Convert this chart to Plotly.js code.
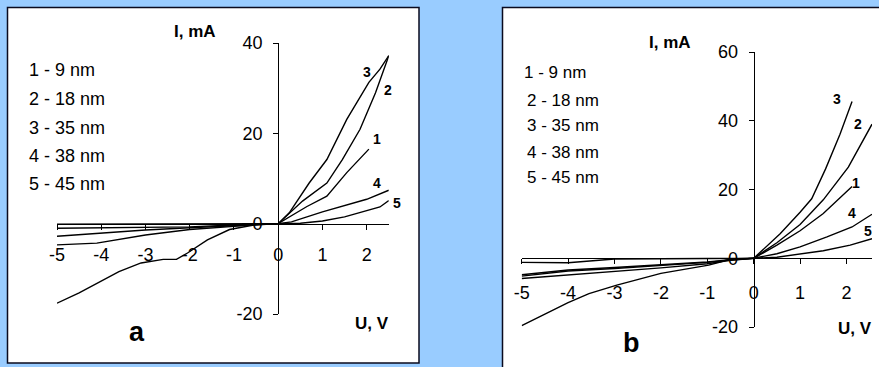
<!DOCTYPE html>
<html>
<head>
<meta charset="utf-8">
<script src="https://cdn.plot.ly/plotly-3.0.1.min.js"></script>
<style>html,body{margin:0;padding:0;background:#99CCFF;}#chart{width:879px;height:367px;}</style>
</head>
<body>
<div id="chart"></div>
<script>
// ---------- Data (U in V, I in mA) ----------
// Panel a
const uA1 = [-5, -4, -3, -2, -1, -0.5, 0, 0.65, 1.1, 1.55, 2.05];
const iA1 = [-2.8, -2.1, -1.4, -0.9, -0.4, -0.1, 0, 3.8, 6.1, 11.3, 16.5];
const uA2 = [-5, -4.1, -3, -2, -1, -0.5, 0, 0.55, 1.1, 1.45, 1.85, 2.2, 2.5];
const iA2 = [-4.7, -4.3, -2.5, -1.3, -0.6, -0.2, 0, 5.0, 9.0, 14.2, 20.9, 29.0, 37.2];
const uA3 = [-5, -4.5, -3.6, -3.1, -2.6, -2.3, -2.05, -1.6, -1.1, -0.55, 0, 0.25, 0.7, 1.1, 1.55, 2.05, 2.3, 2.5];
const iA3 = [-17.6, -15.3, -10.6, -8.7, -7.9, -7.9, -6.5, -3.6, -1.3, -0.3, 0, 2.4, 9.0, 14.2, 23.1, 31.3, 34.2, 37.2];
const uA4 = [-5, -4, -3, -2, -1, 0, 0.3, 1, 2, 2.5];
const iA4 = [-1.0, -0.9, -0.85, -0.7, -0.3, 0, 0.4, 2.6, 5.4, 7.4];
const uA5 = [-5, -3, -1, 0, 0.5, 1, 1.5, 2, 2.3, 2.5];
const iA5 = [-0.1, -0.1, -0.05, 0, 0.1, 0.6, 1.5, 2.9, 3.7, 5.1];
// Panel b
const uB1 = [-5, -4, -3, -2, -1, -0.5, 0, 0.5, 1.0, 1.5, 1.79, 2.12];
const iB1 = [-5.2, -3.7, -3.0, -2.2, -1.2, -0.5, 0, 3.8, 8.0, 13.0, 16.8, 20.9];
const uB2 = [-5, -4, -3, -2, -1, -0.5, 0, 0.5, 1.0, 1.5, 2.04, 2.55];
const iB2 = [-5.9, -4.9, -3.8, -2.8, -1.6, -0.6, 0, 4.5, 9.8, 17.0, 26.5, 39.0];
const uB3 = [-5, -4, -3.55, -2.95, -2, -0.97, -0.72, -0.5, 0, 0.57, 1.0, 1.25, 1.55, 1.86, 2.12];
const iB3 = [-19.6, -12.9, -10.3, -7.8, -4.4, -2.0, -1.1, -0.2, 0, 7.1, 13.4, 17.3, 26.0, 36.1, 45.6];
const uB4 = [-5, -4, -3, -2, -1, -0.5, 0, 0.5, 1, 1.58, 2.12, 2.55];
const iB4 = [-4.8, -3.4, -2.7, -2.0, -1.1, -0.4, 0, 1.3, 3.3, 6.2, 9.1, 12.8];
const uB5 = [-5, -4, -3, -2, -1, 0, 0.5, 1, 1.5, 2.08, 2.55];
const iB5 = [-1.2, -1.3, -0.2, -0.15, -0.1, 0, 0.3, 1.2, 2.2, 3.8, 5.7];

const curveNames = ['1', '2', '3', '4', '5'];
const legendLines = ['1 - 9 nm', '2 - 18 nm', '3 - 35 nm', '4 - 38 nm', '5 - 45 nm'];
const yTicksA = [-20, 0, 20, 40];
const yTicksB = [-20, 0, 20, 40, 60];
const xTicks = [-5, -4, -3, -2, -1, 0, 1, 2];

// ---------- Layout helpers ----------
const W = 879, H = 367;
const px = x => x / W;
const py = y => 1 - y / H;
const FONT = 'Arial, "Liberation Sans", sans-serif';

const rangeXA = [-5, 2.5], rangeYA = [-20, 40];
const rangeXB = [-5, 2.55], rangeYB = [-20, 60];
const domXA = [px(57), px(388.8)], domYA = [py(314), py(43)];
const domXB = [px(521.7), px(872)], domYB = [py(327), py(52)];
const zeroPos = (dom, rng) => dom[0] + (0 - rng[0]) / (rng[1] - rng[0]) * (dom[1] - dom[0]);

const lineStyle = {color: '#000000', width: 1.4};
const traces = [];
[[uA1, iA1], [uA2, iA2], [uA3, iA3], [uA4, iA4], [uA5, iA5]].forEach((d, k) => {
  traces.push({x: d[0], y: d[1], xaxis: 'x', yaxis: 'y', mode: 'lines', line: lineStyle, name: curveNames[k], showlegend: false, hoverinfo: 'skip'});
});
[[uB1, iB1], [uB2, iB2], [uB3, iB3], [uB4, iB4], [uB5, iB5]].forEach((d, k) => {
  traces.push({x: d[0], y: d[1], xaxis: 'x2', yaxis: 'y2', mode: 'lines', line: lineStyle, name: curveNames[k], showlegend: false, hoverinfo: 'skip'});
});

function xAxisCfg(dom, rng, pos, standoff) {
  return {domain: dom, range: rng, anchor: 'free', position: pos, showgrid: false, zeroline: false,
    showline: true, linecolor: '#000', linewidth: 1, ticks: 'outside', ticklen: 5, tickcolor: '#000', tickwidth: 1,
    tickvals: xTicks, ticktext: xTicks.map(String), tickfont: {family: FONT, size: 18, color: '#000'},
    ticklabelstandoff: standoff, fixedrange: true};
}
function yAxisCfg(dom, rng, pos, tv) {
  return {domain: dom, range: rng, anchor: 'free', position: pos, showgrid: false, zeroline: false,
    showline: true, linecolor: '#000', linewidth: 1, ticks: 'outside', ticklen: 5, tickcolor: '#000', tickwidth: 1,
    tickvals: tv, ticktext: tv.map(String), tickfont: {family: FONT, size: 18, color: '#000'},
    ticklabelstandoff: 7, fixedrange: true};
}

const ann = [];
function txt(x, y, text, size, bold, xanchor) {
  ann.push({xref: 'paper', yref: 'paper', x: px(x), y: py(y), text: bold ? '<b>' + text + '</b>' : text,
    showarrow: false, xanchor: xanchor || 'center', yanchor: 'middle',
    font: {family: FONT, size: size, color: '#000'}});
}
// legends
const legA = [70, 99, 128, 156, 184];
legendLines.forEach((t, k) => txt(27, legA[k], t, 18, false, 'left'));
const legBx = [522, 525, 525, 525, 525];
const legB = [73, 101, 126, 152, 177];
legendLines.forEach((t, k) => txt(legBx[k], legB[k], t, 17, false, 'left'));
// axis titles & panel letters
txt(195, 32, 'I, mA', 17, true);
txt(372, 323, 'U, V', 17, true);
txt(137, 332, 'a', 27, true);
txt(670, 42, 'I, mA', 17, true);
txt(855, 328, 'U, V', 17, true);
txt(631, 343, 'b', 27, true);
// curve number labels
const labA = [[376.7, 139.3], [387.7, 90], [366.7, 71.7], [376.7, 182.7], [397.3, 203.3]];
labA.forEach((p, k) => txt(p[0], p[1], curveNames[k], 14, true));
const labB = [[856, 182.7], [857.7, 124], [836.7, 99], [851.7, 213.3], [867.7, 230.7]];
labB.forEach((p, k) => txt(p[0], p[1], curveNames[k], 14, true));

const layout = {
  width: W, height: H, margin: {l: 0, r: 0, t: 0, b: 0},
  paper_bgcolor: '#99CCFF', plot_bgcolor: 'rgba(0,0,0,0)', showlegend: false,
  xaxis: xAxisCfg(domXA, rangeXA, zeroPos(domYA, rangeYA), 10),
  yaxis: yAxisCfg(domYA, rangeYA, zeroPos(domXA, rangeXA), yTicksA),
  xaxis2: xAxisCfg(domXB, rangeXB, zeroPos(domYB, rangeYB), 13),
  yaxis2: yAxisCfg(domYB, rangeYB, zeroPos(domXB, rangeXB), yTicksB),
  shapes: [
    {type: 'rect', xref: 'paper', yref: 'paper', x0: px(7.5), x1: px(419), y0: py(363), y1: py(7.5), fillcolor: '#FFFFFF', line: {color: '#0a0a1e', width: 1.5}, layer: 'below'},
    {type: 'rect', xref: 'paper', yref: 'paper', x0: px(502.5), x1: px(885), y0: py(375), y1: py(7.5), fillcolor: '#FFFFFF', line: {color: '#0a0a1e', width: 1.5}, layer: 'below'}
  ],
  annotations: ann
};

Plotly.newPlot('chart', traces, layout, {displayModeBar: false, staticPlot: true});
</script>
</body>
</html>
